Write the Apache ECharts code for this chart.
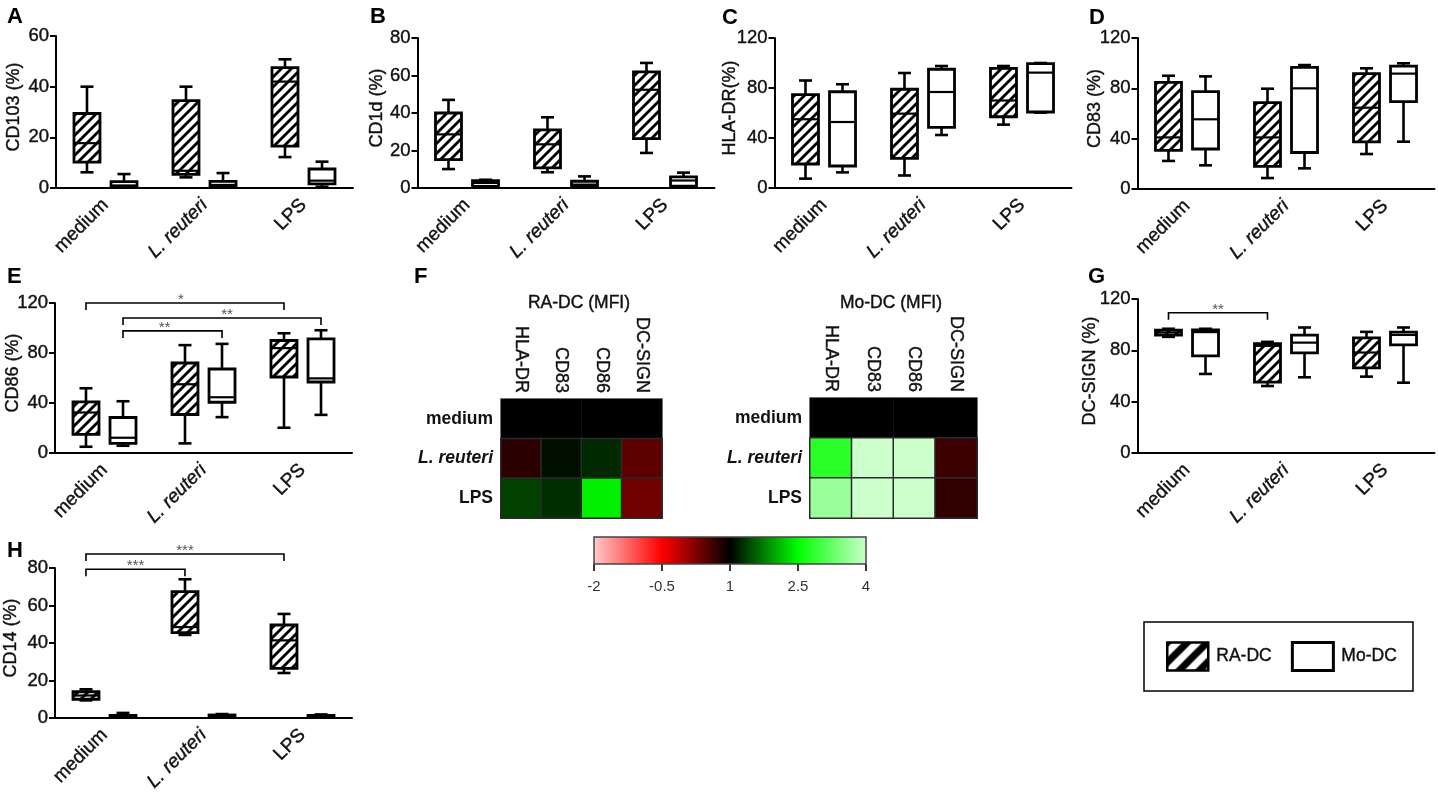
<!DOCTYPE html>
<html>
<head>
<meta charset="utf-8">
<title>RA-DC / Mo-DC</title>
<script src="https://cdn.jsdelivr.net/npm/echarts@6/dist/echarts.min.js"></script>
<style>
    html, body { margin: 0; padding: 0; background: #fff; }
    #chart { width: 1439px; height: 794px; }
</style>
</head>
<body>
<div id="chart"></div>
<script>
const categories = ['medium', 'L. reuteri', 'LPS'];
const markers = ['HLA-DR', 'CD83', 'CD86', 'DC-SIGN'];
const keyTicks = [-2, -0.5, 1, 2.5, 4];
const keyColors = ['#ffcccc', '#ff0000', '#000000', '#00ff00', '#ccffcc'];

// whisker low, q1, median, q3, whisker high, one row per category
const cd103Ra = [[6.2, 10.2, 17.7, 29.4, 40], [4.2, 5.4, 6.8, 34.5, 40], [12.2, 16.5, 42, 47.5, 50.8]];
const cd103Mo = [[0.3, 0.5, 1, 2.5, 5.5], [0.3, 0.5, 1.2, 2.6, 5.9], [0.5, 1.6, 2.9, 7.5, 10.4]];
const cd1dRa = [[10.1, 15.1, 28.6, 40, 47], [8.4, 10.7, 23.3, 31, 37.7], [18.7, 26.3, 52.4, 61.9, 66.7]];
const cd1dMo = [[0.5, 0.8, 2.7, 3.9, 4.4], [0.4, 0.8, 1.8, 3.6, 6.2], [0.5, 1, 4, 5.9, 8.2]];
const hlaDrRa = [[7.5, 19.2, 55, 74.7, 86], [10, 23.7, 59.5, 79, 92], [50.7, 57, 70, 95.7, 97.6]];
const hlaDrMo = [[12.5, 17.6, 52.8, 77, 83], [42.4, 48.5, 76.8, 95, 97.6], [60.3, 60.8, 92.3, 99.5, 100]];
const cd83Ra = [[22.3, 30.7, 41, 84.8, 90], [8.7, 18, 41, 68.6, 79.7], [27.8, 37.4, 64.6, 91.7, 95.9]];
const cd83Mo = [[18.8, 31.8, 55.4, 77.4, 89.5], [16.4, 29, 80, 96.7, 98.5], [37.6, 69.4, 91.7, 97.7, 99.9]];
const cd86Ra = [[5, 14.9, 32.4, 40.9, 51.8], [7.7, 30.8, 55, 72, 86.3], [20.2, 60.8, 83.9, 90, 95.8]];
const cd86Mo = [[5.8, 7.7, 12.2, 28.4, 41.4], [28.7, 40.6, 44.6, 67.2, 87.3], [30.5, 56.8, 59.7, 91.3, 98.2]];
const dcSignRa = [[90.5, 91.8, 93.9, 95.7, 96.8], [52.2, 55.3, 83.5, 85.3, 86.6], [59.5, 66.3, 78.3, 89.7, 94.4]];
const dcSignMo = [[61.6, 75.7, 94.2, 96, 96.8], [59, 78, 86, 91.8, 97.8], [54.8, 84.3, 92, 94.2, 97.8]];
const cd14Ra = [[9.4, 10, 12, 14, 15.3], [44.3, 45.5, 48.5, 67.4, 74], [24, 26.5, 41.4, 49.6, 55.5]];
const cd14Mo = [[0.2, 0.5, 1, 1.4, 2.7], [0.2, 0.6, 1, 1.6, 2.1], [0.2, 0.5, 0.9, 1.4, 1.9]];

// significance brackets: from category, from side, to category, to side, height, stars
const cd86Sig = [[0, -1, 2, -1, 120, '*'], [0, 1, 2, 1, 108, '**'], [0, 1, 1, 1, 97.7, '**']];
const dcSignSig = [[0, -1, 1, -1, 109.3, '**']];
const cd14Sig = [[0, -1, 2, -1, 87.5, '***'], [0, -1, 1, -1, 79.3, '***']];

// fold change per row (medium, L. reuteri, LPS) and marker
const raMfi = [[1, 1, 1, 1], [0.75, 1.09, 1.24, 0.44], [1.38, 1.28, 2.41, 0.34]];
const moMfi = [[1, 1, 1, 1], [2.81, 4, 4, 0.65], [3.63, 4, 4, 0.72]];

const FONT = 'Arial, "Liberation Sans", sans-serif';
const BOX_OFFSET = 0.187; // box centre from the tick, in bands
const BOX_HALF = 13;
const CAP_HALF = 6.5;
const PLOT_WIDTH = 297;
const INK = '#111';
// the scanned labels are a bit heavier than a plain regular weight
const HEAVY = { textBorderColor: INK, textBorderWidth: 0.4 };

const panels = [
    { name: 'CD103 (%)', max: 60, step: 20, left: 56, top: 36, bottom: 188, gap: 32.5, ra: cd103Ra, mo: cd103Mo },
    { name: 'CD1d (%)', max: 80, step: 20, left: 417.5, top: 38, bottom: 188, gap: 31.5, ra: cd1dRa, mo: cd1dMo },
    { name: 'HLA-DR(%)', max: 120, step: 40, left: 774.5, top: 38, bottom: 188, gap: 35.5, ra: hlaDrRa, mo: hlaDrMo },
    { name: 'CD83 (%)', max: 120, step: 40, left: 1137.5, top: 38, bottom: 189, gap: 33.5, ra: cd83Ra, mo: cd83Mo },
    { name: 'CD86 (%)', max: 120, step: 40, left: 55, top: 303, bottom: 453, gap: 33, ra: cd86Ra, mo: cd86Mo, sig: cd86Sig, starShift: [-4, 5, -8] },
    { name: 'DC-SIGN (%)', max: 120, step: 40, left: 1137.5, top: 299, bottom: 453, gap: 38.5, ra: dcSignRa, mo: dcSignMo, sig: dcSignSig, starShift: [0] },
    { name: 'CD14 (%)', max: 80, step: 20, left: 55, top: 568, bottom: 718, gap: 35, ra: cd14Ra, mo: cd14Mo, sig: cd14Sig, starShift: [0, 0] }
];

const heatPanels = [
    { title: 'RA-DC (MFI)', centre: 579, left: 501, width: 161, top: 399, height: 119, values: raMfi },
    { title: 'Mo-DC (MFI)', centre: 891, left: 810, width: 167, top: 398, height: 120, values: moMfi }
];

const letters = [
    ['A', 7, 6], ['B', 370, 6], ['C', 722, 7], ['D', 1089, 7],
    ['E', 7, 266], ['F', 414, 266], ['G', 1088, 266], ['H', 7, 540]
];

// diagonal hatch tile for the RA-DC boxes
function hatch(size, width) {
    const tile = document.createElement('canvas');
    tile.width = size;
    tile.height = size;
    const ctx = tile.getContext('2d');
    ctx.fillStyle = '#fff';
    ctx.fillRect(0, 0, size, size);
    ctx.strokeStyle = '#000';
    ctx.lineWidth = width;
    [[-size, size, size, -size], [0, size, size, 0], [0, 2 * size, 2 * size, 0]].forEach(function (l) {
        ctx.beginPath();
        ctx.moveTo(l[0], l[1]);
        ctx.lineTo(l[2], l[3]);
        ctx.stroke();
    });
    return { image: tile, repeat: 'repeat' };
}

const boxHatch = hatch(10, 2.8);
const legendHatch = hatch(20, 7);

function segment(x1, y1, x2, y2, width) {
    return {
        type: 'line',
        shape: { x1: x1, y1: y1, x2: x2, y2: y2 },
        style: { stroke: '#000', lineWidth: width }
    };
}

function boxRenderer(side, fill) {
    return function (params, api) {
        const cat = api.value(0);
        const band = api.size([1, 0])[0];
        const x = api.coord([cat, 0])[0] + side * BOX_OFFSET * band;
        const y = function (dim) { return api.coord([cat, api.value(dim)])[1]; };
        const low = y(1), q1 = y(2), med = y(3), q3 = y(4), high = y(5);
        return {
            type: 'group',
            children: [
                segment(x, q1, x, low, 2.6),
                segment(x, q3, x, high, 2.6),
                segment(x - CAP_HALF, low, x + CAP_HALF, low, 2.6),
                segment(x - CAP_HALF, high, x + CAP_HALF, high, 2.6),
                {
                    type: 'rect',
                    shape: { x: x - BOX_HALF, y: q3, width: 2 * BOX_HALF, height: q1 - q3 },
                    style: { fill: fill, stroke: '#000', lineWidth: 2.8 }
                },
                segment(x - BOX_HALF, med, x + BOX_HALF, med, 2.2)
            ]
        };
    };
}

function bracketRenderer(starShift) {
    return function (params, api) {
        const band = api.size([1, 0])[0];
        const xAt = function (cat, side) {
            return api.coord([cat, 0])[0] + side * BOX_OFFSET * band;
        };
        const x0 = xAt(api.value(0), api.value(1));
        const x1 = xAt(api.value(2), api.value(3));
        const y = api.coord([0, api.value(4)])[1];
        return {
            type: 'group',
            children: [
                {
                    type: 'polyline',
                    shape: { points: [[x0, y + 7], [x0, y], [x1, y], [x1, y + 7]] },
                    style: { stroke: '#000', lineWidth: 1.6, fill: null }
                },
                {
                    type: 'text',
                    style: {
                        text: api.value(5),
                        x: (x0 + x1) / 2 + starShift[params.dataIndex],
                        y: y - 3,
                        align: 'center',
                        verticalAlign: 'middle',
                        fill: '#555',
                        font: '15px ' + FONT
                    }
                }
            ]
        };
    };
}

function keyRenderer(params, api) {
    const start = api.coord([keyTicks[0], 0]);
    const end = api.coord([keyTicks[keyTicks.length - 1], 1]);
    return {
        type: 'rect',
        shape: { x: start[0], y: end[1], width: end[0] - start[0], height: start[1] - end[1] },
        style: {
            fill: new echarts.graphic.LinearGradient(0, 0, 1, 0, keyColors.map(function (c, i) {
                return { offset: i / (keyColors.length - 1), color: c };
            })),
            stroke: '#444',
            lineWidth: 1.5
        }
    };
}

function italicReuteri(v) {
    return v === 'L. reuteri' ? '{i|' + v + '}' : v;
}

const option = {
    backgroundColor: '#fff',
    animation: false,
    title: [],
    grid: [],
    xAxis: [],
    yAxis: [],
    series: [],
    legend: {
        left: 1144,
        top: 622,
        padding: [19, 16, 19, 22],
        itemWidth: 41,
        itemHeight: 28,
        itemGap: 19,
        selectedMode: false,
        borderColor: '#000',
        borderWidth: 1.5,
        backgroundColor: '#fff',
        textStyle: Object.assign({ fontFamily: FONT, fontSize: 17.5, color: INK, padding: [0, 0, 0, 3] }, HEAVY),
        data: [
            { name: 'RA-DC', icon: 'rect', itemStyle: { color: legendHatch, borderColor: '#000', borderWidth: 2.5 } },
            { name: 'Mo-DC', icon: 'rect', itemStyle: { color: '#fff', borderColor: '#000', borderWidth: 3 } }
        ]
    },
    visualMap: {
        show: false,
        min: keyTicks[0],
        max: keyTicks[keyTicks.length - 1],
        seriesIndex: [],
        inRange: { color: keyColors }
    }
};

letters.forEach(function (l) {
    option.title.push({
        text: l[0], left: l[1], top: l[2], padding: 0,
        textStyle: { fontFamily: FONT, fontSize: 22, fontWeight: 'bold', color: '#000' }
    });
});

// box plot panels
panels.forEach(function (p) {
    const idx = option.grid.length;
    option.grid.push({
        left: p.left, top: p.top, width: PLOT_WIDTH, height: p.bottom - p.top,
        outerBoundsMode: 'none'
    });
    option.xAxis.push({
        type: 'category',
        gridIndex: idx,
        data: categories,
        axisLine: { lineStyle: { color: '#000', width: 2 } },
        axisTick: { alignWithLabel: true, length: 5, lineStyle: { color: '#000', width: 2 } },
        axisLabel: Object.assign({
            interval: 0,
            rotate: 45,
            margin: 14,
            fontFamily: FONT,
            fontSize: 19,
            color: INK,
            formatter: italicReuteri,
            rich: { i: Object.assign({ fontFamily: FONT, fontSize: 19, fontStyle: 'italic', color: INK }, HEAVY) }
        }, HEAVY)
    });
    option.yAxis.push({
        type: 'value',
        gridIndex: idx,
        min: 0,
        max: p.max,
        interval: p.step,
        name: p.name,
        nameLocation: 'middle',
        nameGap: p.gap,
        nameMoveOverlap: false,
        nameTextStyle: Object.assign({ fontFamily: FONT, fontSize: 18, color: INK, padding: [0, 0, 0, 10] }, HEAVY),
        splitLine: { show: false },
        axisLine: { show: true, onZero: false, lineStyle: { color: '#000', width: 2 } },
        axisTick: { show: true, length: 6, lineStyle: { color: '#000', width: 2 } },
        axisLabel: Object.assign({ margin: 7, fontFamily: FONT, fontSize: 18.5, color: INK }, HEAVY)
    });
    [['RA-DC', p.ra, -1, boxHatch], ['Mo-DC', p.mo, 1, '#fff']].forEach(function (s) {
        option.series.push({
            type: 'custom',
            name: s[0],
            xAxisIndex: idx,
            yAxisIndex: idx,
            itemStyle: { color: s[3] },
            encode: { x: 0, y: [1, 2, 3, 4, 5] },
            data: s[1].map(function (row, i) { return [i].concat(row); }),
            renderItem: boxRenderer(s[2], s[3])
        });
    });
    if (p.sig) {
        option.series.push({
            type: 'custom',
            name: 'significance',
            xAxisIndex: idx,
            yAxisIndex: idx,
            encode: { x: 0, y: 4 },
            data: p.sig,
            renderItem: bracketRenderer(p.starShift)
        });
    }
});

// heat maps in panel F
heatPanels.forEach(function (h) {
    const idx = option.grid.length;
    option.title.push({
        text: h.title, left: h.centre, top: 294, textAlign: 'center', padding: 0,
        textStyle: Object.assign({ fontFamily: FONT, fontSize: 17.5, fontWeight: 'normal', color: INK }, HEAVY)
    });
    option.grid.push({
        left: h.left, top: h.top, width: h.width, height: h.height,
        outerBoundsMode: 'none',
        show: true, borderColor: '#777', borderWidth: 1.5
    });
    option.xAxis.push({
        type: 'category',
        gridIndex: idx,
        position: 'top',
        data: markers,
        axisLine: { show: false },
        axisTick: { show: false },
        axisLabel: Object.assign({ interval: 0, rotate: 90, margin: 6, fontFamily: FONT, fontSize: 18, color: INK }, HEAVY)
    });
    option.yAxis.push({
        type: 'category',
        gridIndex: idx,
        inverse: true,
        data: categories,
        axisLine: { show: false },
        axisTick: { show: false },
        axisLabel: {
            interval: 0,
            margin: 8,
            fontFamily: FONT,
            fontSize: 17.5,
            fontWeight: 'bold',
            color: INK,
            formatter: italicReuteri,
            rich: { i: { fontFamily: FONT, fontSize: 17.5, fontWeight: 'bold', fontStyle: 'italic', color: INK } }
        }
    });
    const cells = [];
    h.values.forEach(function (row, r) {
        row.forEach(function (v, c) {
            // the medium row has no visible cell seams
            cells.push(r === 0
                ? { value: [c, r, v], itemStyle: { borderWidth: 0 } }
                : [c, r, v]);
        });
    });
    option.visualMap.seriesIndex.push(option.series.length);
    option.series.push({
        type: 'heatmap',
        name: h.title,
        xAxisIndex: idx,
        yAxisIndex: idx,
        data: cells,
        itemStyle: { borderColor: '#2a2a2a', borderWidth: 1.5 }
    });
});

// colour key
const keyIdx = option.grid.length;
option.grid.push({ left: 594, top: 537, width: 272, height: 27, outerBoundsMode: 'none' });
option.xAxis.push({
    type: 'value',
    gridIndex: keyIdx,
    min: keyTicks[0],
    max: keyTicks[keyTicks.length - 1],
    splitLine: { show: false },
    axisLine: { show: false },
    axisTick: { customValues: keyTicks, length: 7, lineStyle: { color: '#222', width: 1.8 } },
    axisLabel: { customValues: keyTicks, margin: 15, fontFamily: FONT, fontSize: 15, color: '#333' }
});
option.yAxis.push({ type: 'value', gridIndex: keyIdx, min: 0, max: 1, show: false });
option.series.push({
    type: 'custom',
    name: 'key',
    xAxisIndex: keyIdx,
    yAxisIndex: keyIdx,
    encode: { x: 0, y: 1 },
    data: [[keyTicks[0], 0]],
    renderItem: keyRenderer
});

const myChart = echarts.init(document.getElementById('chart'));
myChart.setOption(option);
</script>
</body>
</html>
